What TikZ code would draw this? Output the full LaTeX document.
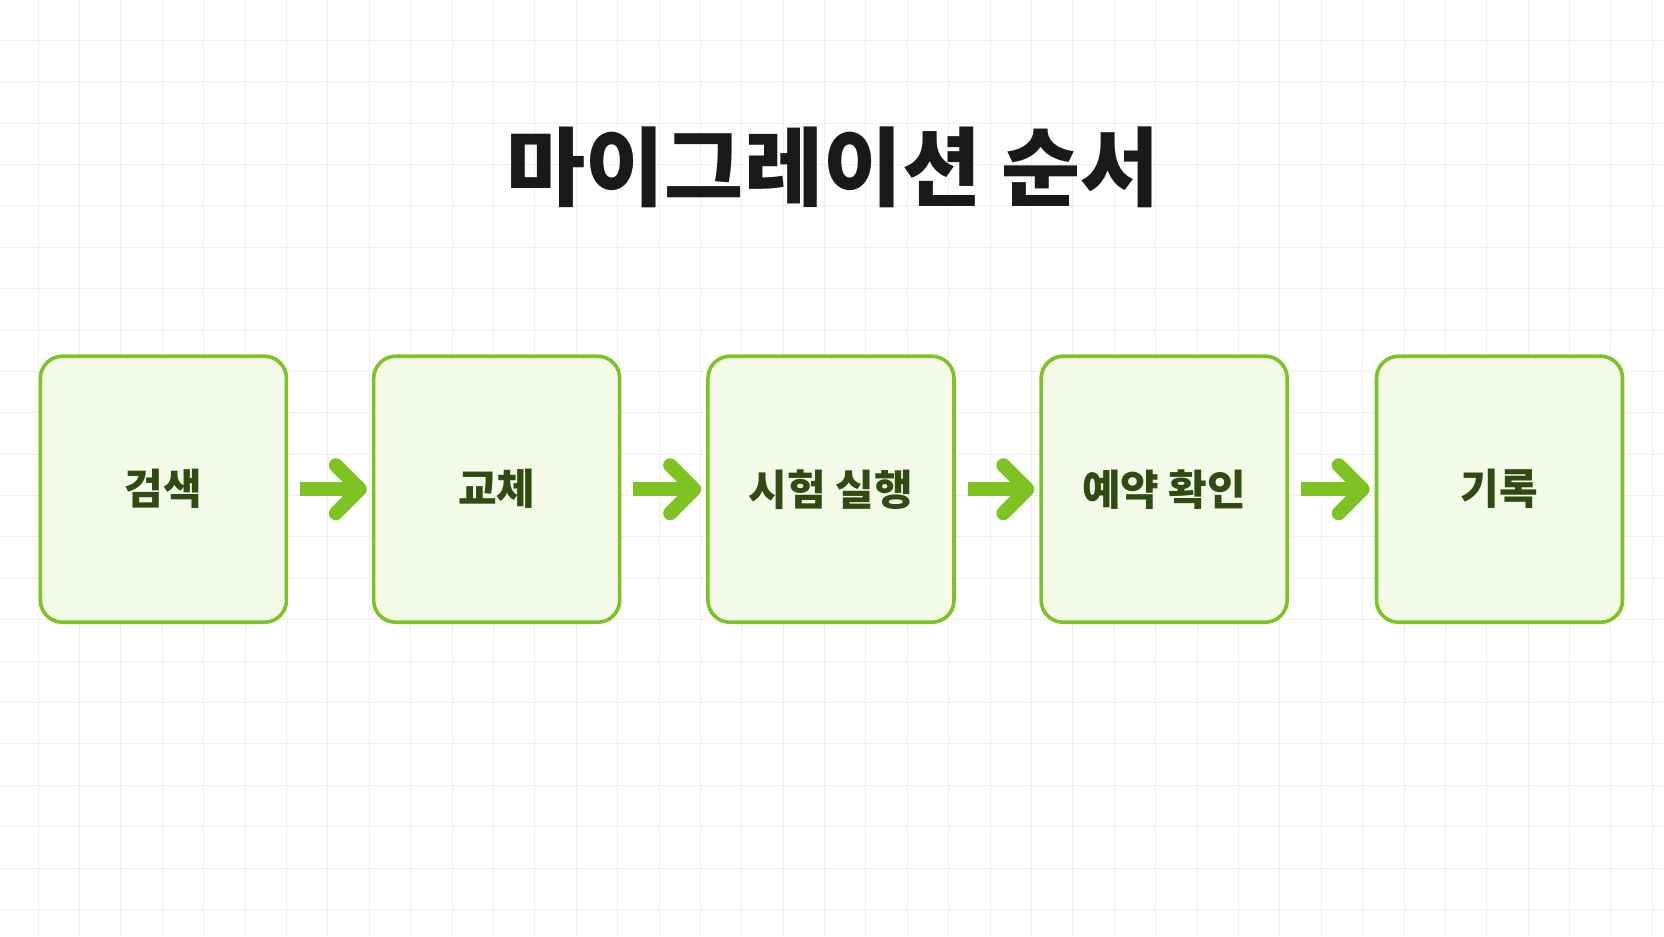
\documentclass[tikz,border=0pt]{standalone}
\usepackage{fontspec}
\newfontfamily\kr{Noto Sans CJK KR}
\usetikzlibrary{positioning}
\definecolor{stepfill}{HTML}{F3FAE8}
\definecolor{stepline}{HTML}{7DC423}
\definecolor{steptext}{HTML}{2F4A12}
\definecolor{gridline}{HTML}{EFEFEF}
\begin{document}
\begin{tikzpicture}[x=0.5306pt,y=-0.5306pt, font=\kr,
	stepStyle/.style = {draw=stepline, line width=1.8pt, fill=stepfill, rounded corners=11pt,
		minimum width=123pt, minimum height=133pt, text=steptext, font=\kr\bfseries\fontsize{21}{25}\selectfont},
	arrowStyle/.style = {draw=stepline, line width=7pt, line cap=round}]
	% background and grid
	\useasboundingbox (0,0) rectangle (1568,882);
	\fill[white] (0,0) rectangle (1568,882);
	\begin{scope}
	\clip (0,0) rectangle (1568,882);
	\foreach \i in {1,...,40} \draw[gridline, line width=0.5pt] (\i*39-3,0) -- (\i*39-3,882);
	\foreach \j in {1,...,22} \draw[gridline, line width=0.5pt] (0,\j*39-1) -- (1568,\j*39-1);
	\end{scope}
	% title
	\node[font=\kr\bfseries\fontsize{43}{50}\selectfont, text=black!90] (title) at (785,158) {마이그레이션 순서};
	% steps
	\node[stepStyle] (s1) at (154,461) {검색};
	\node[stepStyle] (s2) at (468,461) {교체};
	\node[stepStyle] (s3) at (783,461) {시험 실행};
	\node[stepStyle] (s4) at (1097,461) {예약 확인};
	\node[stepStyle] (s5) at (1413,461) {기록};
	% arrows
	\foreach \a/\b in {s1/s2, s2/s3, s3/s4, s4/s5} {
		\coordinate (t\a) at ([xshift=6pt]\a.east);
		\coordinate (h\a) at ([xshift=-6pt]\b.west);
		\draw[arrowStyle, line cap=butt] (t\a) -- ([xshift=-2pt]h\a);
		\draw[arrowStyle, line join=round] ([xshift=-12pt,yshift=12pt]h\a) -- (h\a) -- ([xshift=-12pt,yshift=-12pt]h\a);
	}
\end{tikzpicture}
\end{document}
